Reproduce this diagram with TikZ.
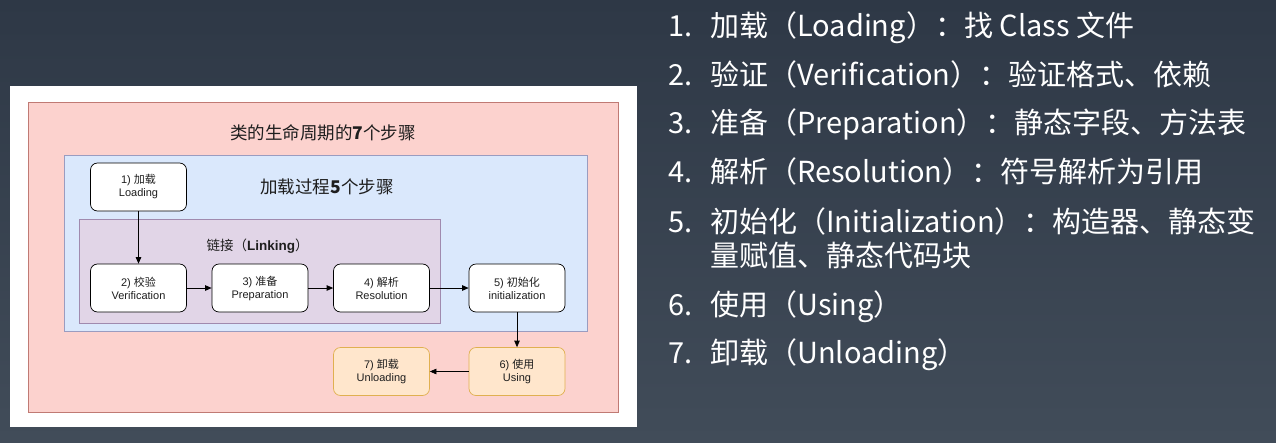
\documentclass[tikz,border=0pt]{standalone}
\usepackage{fontspec}
\setmainfont{Liberation Sans}
\newfontfamily\cjk{Noto Sans CJK SC}
\usetikzlibrary{arrows.meta}
\definecolor{bgtop}{HTML}{2E3846}
\definecolor{bgbot}{HTML}{414C59}
\definecolor{pinkfill}{HTML}{FCD2CE}
\definecolor{pinkline}{HTML}{C07A74}
\definecolor{bluefill}{HTML}{DAE8FC}
\definecolor{blueline}{HTML}{9A9CC0}
\definecolor{purpfill}{HTML}{E1D5E7}
\definecolor{purpline}{HTML}{A08AAE}
\definecolor{orgfill}{HTML}{FFE6CC}
\definecolor{orgline}{HTML}{E0B050}
\definecolor{txt}{HTML}{1E1E1E}
\tikzset{
  stepbox/.style={draw=black, fill=white, rounded corners=7pt, minimum width=96pt, minimum height=48pt,
    inner sep=0pt, align=center, text=txt, font=\fontsize{11}{13}\selectfont, line width=0.7pt},
  orgbox/.style={stepbox, draw=orgline, fill=orgfill},
  arr/.style={-{Triangle[length=6.5pt,width=5.5pt]}, line width=0.7pt, black},
  rtext/.style={anchor=base west, inner sep=0pt, text=white, font=\cjk\fontsize{29}{34}\selectfont},
  ttl/.style={inner sep=0pt, text=txt}
}
\begin{document}
\begin{tikzpicture}[x=1pt,y=-1pt]
\useasboundingbox (0,0) rectangle (1276,442);
\shade[top color=bgtop, bottom color=bgbot] (0,0) rectangle (1276,442);
% white panel
\fill[white] (10,86) rectangle (637,427);
% containers
\draw[fill=pinkfill, draw=pinkline, line width=0.6pt] (28,102) rectangle (618,412);
\draw[fill=bluefill, draw=blueline, line width=0.6pt] (64,155) rectangle (587,331);
\draw[fill=purpfill, draw=purpline, line width=0.6pt] (79.5,219) rectangle (440,323);
% titles
\node[ttl, font=\fontsize{17.5}{20}\selectfont] (t1) at (323,133) {\cjk 类的生命周期的\textbf{7}个步骤};
\node[ttl, font=\fontsize{17.5}{20}\selectfont] (t2) at (327,187) {\cjk 加载过程\textbf{5}个步骤};
\node[ttl, font=\fontsize{13.5}{16}\selectfont] (t3) at (257.5,246) {{\cjk 链接（}\textbf{Linking}{\cjk ）}};
% step boxes
\node[stepbox] (b1) at (138.5,187) {1) {\cjk 加载}\\Loading};
\node[stepbox] (b2) at (138.5,288) {2) {\cjk 校验}\\Verification};
\node[stepbox] (b3) at (260,288) {3) {\cjk 准备}\\Preparation};
\node[stepbox] (b4) at (381.5,288) {4) {\cjk 解析}\\Resolution};
\node[stepbox] (b5) at (517,288) {5) {\cjk 初始化}\\initialization};
\node[orgbox] (b6) at (517,371.5) {6) {\cjk 使用}\\Using};
\node[orgbox] (b7) at (381.5,371.5) {7) {\cjk 卸载}\\Unloading};
% arrows
\draw[arr] (b1.south) -- (b2.north);
\draw[arr] (b2.east) -- (b3.west);
\draw[arr] (b3.east) -- (b4.west);
\draw[arr] (b4.east) -- (b5.west);
\draw[arr] (b5.south) -- (b6.north);
\draw[arr] (b6.west) -- (b7.east);
% right-hand list
\node[rtext] (r1) at (668,36) {\makebox[42pt][l]{1.}加载（Loading）：找 Class 文件};
\node[rtext] (r2) at (668,85) {\makebox[42pt][l]{2.}验证（Verification）：验证格式、依赖};
\node[rtext] (r3) at (668,133) {\makebox[42pt][l]{3.}准备（Preparation）：静态字段、方法表};
\node[rtext] (r4) at (668,182) {\makebox[42pt][l]{4.}解析（Resolution）：符号解析为引用};
\node[rtext] (r5) at (668,232) {\makebox[42pt][l]{5.}初始化（Initialization）：构造器、静态变};
\node[rtext] (r5b) at (710,266) {量赋值、静态代码块};
\node[rtext] (r6) at (668,315) {\makebox[42pt][l]{6.}使用（Using）};
\node[rtext] (r7) at (668,363) {\makebox[42pt][l]{7.}卸载（Unloading）};
\end{tikzpicture}
\end{document}
